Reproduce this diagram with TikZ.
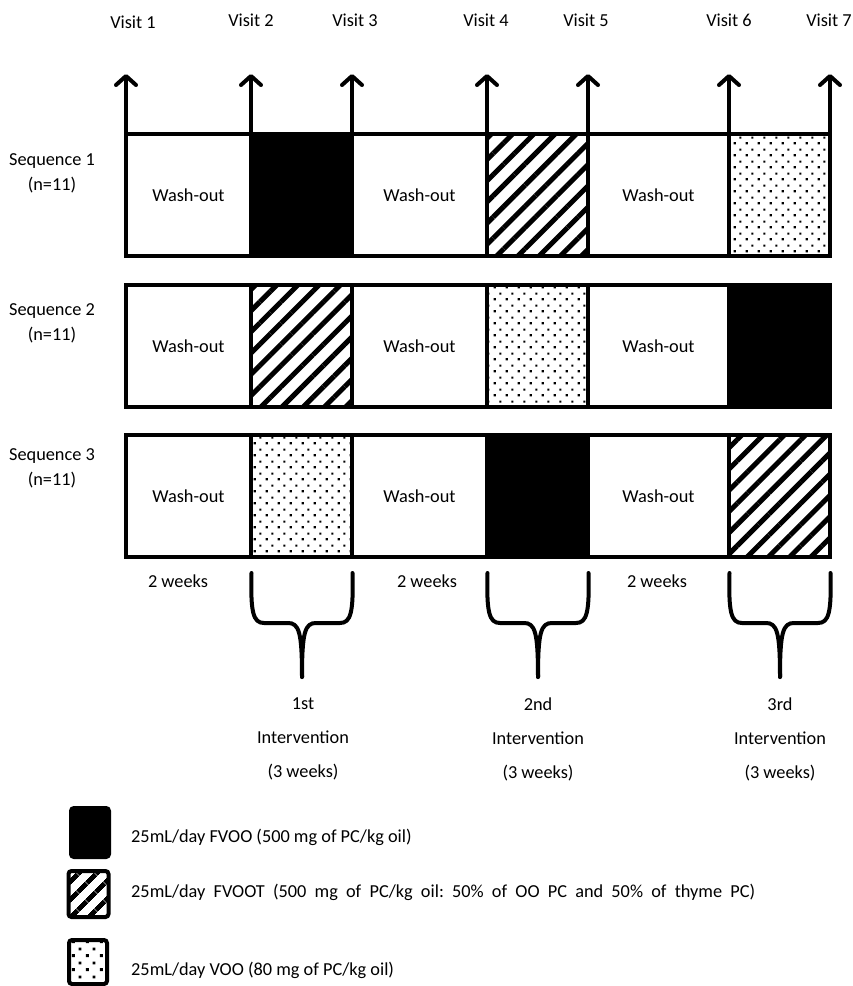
\documentclass[tikz,border=0pt]{standalone}
\usepackage{fontspec}
\setmainfont{Carlito}
\usetikzlibrary{arrows.meta,patterns.meta}
\tikzdeclarepattern{
  name=sqdots,
  type=uncolored,
  bounding box={(0pt,0pt) and (12pt,12pt)},
  tile size={(12pt,12pt)},
  code={
    \fill (1.8pt,1.8pt) rectangle (4.2pt,4.2pt);
    \fill (7.8pt,7.8pt) rectangle (10.2pt,10.2pt);
  }
}
\tikzdeclarepattern{
  name=bigsqdots,
  type=uncolored,
  bounding box={(0pt,0pt) and (14pt,14pt)},
  tile size={(14pt,14pt)},
  code={
    \fill (2pt,2pt) rectangle (5pt,5pt);
    \fill (9pt,9pt) rectangle (12pt,12pt);
  }
}
\begin{document}
\begin{tikzpicture}[x=1pt,y=-1pt,
  txt/.style={font=\fontsize{18.3}{22}\selectfont, inner sep=0pt},
  seg/.style={draw, line width=4pt, rectangle, inner sep=0pt, outer sep=0pt, minimum height=122pt, font=\fontsize{18.3}{22}\selectfont},
  wash/.style={seg, minimum width=#1},
  blackseg/.style={seg, fill=black, minimum width=101pt},
  hatchseg/.style={seg, minimum width=101pt, pattern={Lines[angle=45,distance=15pt,line width=5pt]}},
  dotseg/.style={seg, minimum width=101pt, pattern=sqdots},
  visit/.style={line width=4pt, -{Straight Barb[length=9pt,width=20pt,round]}},
  bracestyle/.style={line width=4pt, line cap=round, line join=round},
  legbox/.style={draw, line width=4pt, rounded corners=3pt, inner sep=0pt, minimum width=38pt, minimum height=46pt},
  intbrace/.pic={
    \draw[bracestyle] (-50.5,573) .. controls (-51.5,612) and (-49,623) .. (-38,623) -- (-14,623) .. controls (-3,623) and (0,632) .. (0,677);
    \draw[bracestyle] (50.5,573) .. controls (51.5,612) and (49,623) .. (38,623) -- (14,623) .. controls (3,623) and (0,632) .. (0,677);
  }
]
\useasboundingbox (0,0) rectangle (853,986);

% Visit labels
\node[txt] (V1) at (133,22) {Visit 1};
\node[txt] (V2) at (251,20) {Visit 2};
\node[txt] (V3) at (355,20) {Visit 3};
\node[txt] (V4) at (486,20) {Visit 4};
\node[txt] (V5) at (586,20) {Visit 5};
\node[txt] (V6) at (729,20) {Visit 6};
\node[txt] (V7) at (829,20) {Visit 7};

% Row 1
\node[wash=125pt] (r1a) at (188.5,195) {Wash-out};
\node[blackseg] (r1b) at (301.5,195) {};
\node[wash=135pt] (r1c) at (419.5,195) {Wash-out};
\node[hatchseg] (r1d) at (537.5,195) {};
\node[wash=141pt] (r1e) at (658.5,195) {Wash-out};
\node[dotseg] (r1f) at (779.5,195) {};

% Row 2
\node[wash=125pt] (r2a) at (188.5,346) {Wash-out};
\node[hatchseg] (r2b) at (301.5,346) {};
\node[wash=135pt] (r2c) at (419.5,346) {Wash-out};
\node[dotseg] (r2d) at (537.5,346) {};
\node[wash=141pt] (r2e) at (658.5,346) {Wash-out};
\node[blackseg] (r2f) at (779.5,346) {};

% Row 3
\node[wash=125pt] (r3a) at (188.5,496) {Wash-out};
\node[dotseg] (r3b) at (301.5,496) {};
\node[wash=135pt] (r3c) at (419.5,496) {Wash-out};
\node[blackseg] (r3d) at (537.5,496) {};
\node[wash=141pt] (r3e) at (658.5,496) {Wash-out};
\node[hatchseg] (r3f) at (779.5,496) {};

% Visit arrows
\foreach \i/\xx in {1/126,2/251,3/352,4/487,5/588,6/729,7/830}{
  \coordinate (b\i) at (\xx,134);
  \coordinate (t\i) at (\xx,74);
  \draw[visit] (b\i) -- (t\i);
}

% Sequence labels
\node[txt, align=center, font=\fontsize{18.3}{25}\selectfont] (s1) at (52,173) {Sequence 1\\(n=11)};
\node[txt, align=center, font=\fontsize{18.3}{25}\selectfont] (s2) at (52,323) {Sequence 2\\(n=11)};
\node[txt, align=center, font=\fontsize{18.3}{25}\selectfont] (s3) at (52,468) {Sequence 3\\(n=11)};

% 2 weeks
\node[txt] (w1) at (178,581) {2 weeks};
\node[txt] (w2) at (427,581) {2 weeks};
\node[txt] (w3) at (657,581) {2 weeks};

% Braces
\pic at (302,0) {intbrace};
\pic at (538,0) {intbrace};
\pic at (780,0) {intbrace};

% Intervention labels
\node[txt, align=center, font=\fontsize{18.3}{34}\selectfont] (i1) at (303,739) {1st\\Intervention\\(3 weeks)};
\node[txt, align=center, font=\fontsize{18.3}{34}\selectfont] (i2) at (538,739) {2nd\\Intervention\\(3 weeks)};
\node[txt, align=center, font=\fontsize{18.3}{34}\selectfont] (i3) at (780,739) {3rd\\Intervention\\(3 weeks)};

% Legend
\node[legbox, fill=black, draw=black, minimum height=49pt] (k1) at (90,832.5) {};
\node[legbox, pattern={Lines[angle=45,distance=13pt,line width=5pt]}, minimum width=40pt] (k2) at (88.5,894) {};
\node[legbox, pattern=bigsqdots, minimum height=44pt] (k3) at (88,962) {};
\node[txt, anchor=west] (l1) at (131,837) {25mL/day FVOO (500 mg of PC/kg oil)};
\node[txt, anchor=west] (l2) at (131,892) {\makebox[624pt][s]{25mL/day FVOOT (500 mg of PC/kg oil:\ 50\% of OO PC and 50\% of thyme PC)}};
\node[txt, anchor=west] (l3) at (131,970) {25mL/day VOO (80 mg of PC/kg oil)};
\end{tikzpicture}
\end{document}
